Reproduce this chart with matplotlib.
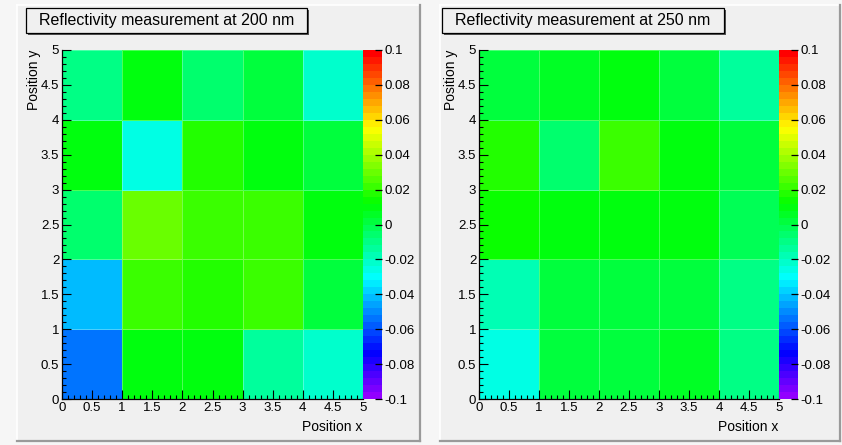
import colorsys

import matplotlib.pyplot as plt
import numpy as np
from matplotlib.colors import BoundaryNorm, ListedColormap
from matplotlib.lines import Line2D
from matplotlib.patches import Rectangle
from matplotlib.ticker import FormatStrFormatter, MultipleLocator

plt.rcParams['font.family'] = ['Liberation Sans', 'DejaVu Sans']
plt.rcParams['axes.unicode_minus'] = False

W, H = 842, 445
PAD_COLOR = '#f0f0f0'

# 5x5 scan grid, rows listed from y = 0 upwards
x_edges = np.arange(6)
y_edges = np.arange(6)

refl_200 = [
    [-0.054, 0.011, 0.011, -0.014, -0.021],
    [-0.043, 0.021, 0.018, 0.021, 0.003],
    [-0.006, 0.030, 0.022, 0.021, 0.011],
    [0.011, -0.027, 0.019, 0.011, 0.003],
    [-0.009, 0.010, -0.007, 0.002, -0.021],
]
refl_250 = [
    [-0.026, 0.003, 0.002, 0.006, -0.010],
    [-0.018, 0.002, 0.003, 0.001, -0.009],
    [0.014, 0.011, 0.011, 0.010, -0.002],
    [0.018, -0.006, 0.022, 0.011, 0.002],
    [0.002, 0.005, 0.010, 0.002, -0.014],
]
titles = ['Reflectivity measurement at 200 nm', 'Reflectivity measurement at 250 nm']

z_min, z_max, n_colors = -0.1, 0.1, 50
cbar_ticks = np.linspace(z_min, z_max, 11)


def pretty_palette(n):
    # violet -> red spectrum, fixed lightness/saturation, hue scanned 280..0
    cols = []
    for i in range(n):
        hue = 280.0 - (i + 1) * 280.0 / n
        cols.append(colorsys.hls_to_rgb(hue / 360.0, 0.5, 1.0))
    return ListedColormap(cols)


def fx(x):
    return x / W


def fy(y):
    return 1 - y / H


def px_rect(x0, y0, x1, y1):
    return [fx(x0), fy(y1), (x1 - x0) / W, (y1 - y0) / H]


def draw_pad(fig, x0, y0, x1, y1):
    fig.add_artist(Rectangle((fx(x0), fy(y1)), (x1 - x0) / W, (y1 - y0) / H,
                             transform=fig.transFigure, facecolor=PAD_COLOR,
                             edgecolor='none', zorder=0))
    light = dict(color='white', lw=1.2, transform=fig.transFigure, zorder=0.5)
    dark = dict(color='#9a9a9a', lw=1.6, transform=fig.transFigure, zorder=0.5)
    fig.add_artist(Line2D([fx(x0), fx(x1)], [fy(y0), fy(y0)], **light))
    fig.add_artist(Line2D([fx(x0), fx(x0)], [fy(y0), fy(y1)], **light))
    fig.add_artist(Line2D([fx(x0), fx(x1)], [fy(y1), fy(y1)], **dark))
    fig.add_artist(Line2D([fx(x1), fx(x1)], [fy(y0), fy(y1)], **dark))


def draw_title(fig, text, x0, y0, x1, y1):
    fig.add_artist(Rectangle((fx(x0 + 2), fy(y1 + 2)), (x1 - x0) / W, (y1 - y0) / H,
                             transform=fig.transFigure, facecolor='#555555',
                             edgecolor='none', zorder=1))
    fig.add_artist(Rectangle((fx(x0), fy(y1)), (x1 - x0) / W, (y1 - y0) / H,
                             transform=fig.transFigure, facecolor=PAD_COLOR,
                             edgecolor='black', lw=0.9, zorder=1.1))
    fig.text(fx((x0 + x1) / 2), fy((y0 + y1) / 2), text, ha='center', va='center',
             fontsize=11.5, zorder=2)


cmap = pretty_palette(n_colors)
norm = BoundaryNorm(np.linspace(z_min, z_max, n_colors + 1), n_colors)

# pixel layout of each pad: pad frame, title box, plot frame, palette strip
layouts = [
    dict(pad=(17, 5, 420, 441), title=(26, 8, 307, 33), plot=(62, 50, 363, 399), bar=(363, 382)),
    dict(pad=(440, 5, 840, 441), title=(442, 8, 724, 33), plot=(479, 50, 779, 399), bar=(779, 798)),
]

fig = plt.figure(figsize=(W / 100, H / 100), dpi=100)
fig.patch.set_facecolor('#f6f6f6')

for values, title, lay in zip([refl_200, refl_250], titles, layouts):
    draw_pad(fig, *lay['pad'])
    draw_title(fig, title, *lay['title'])

    x0, y0, x1, y1 = lay['plot']
    ax = fig.add_axes(px_rect(x0, y0, x1, y1))
    mesh = ax.pcolormesh(x_edges, y_edges, np.array(values), cmap=cmap, norm=norm,
                         edgecolors=(1, 1, 1, 0.3), linewidth=0.6)
    ax.set_xlim(x_edges[0], x_edges[-1])
    ax.set_ylim(y_edges[0], y_edges[-1])
    for axis in (ax.xaxis, ax.yaxis):
        axis.set_major_locator(MultipleLocator(0.5))
        axis.set_minor_locator(MultipleLocator(0.1))
        axis.set_major_formatter(FormatStrFormatter('%g'))
    ax.tick_params(which='both', direction='in', top=False, right=False,
                   labelsize=9.5, width=0.8, color='black')
    ax.tick_params(which='major', length=6.5, pad=2)
    ax.tick_params(which='minor', length=3)
    ax.spines['top'].set_visible(False)
    ax.spines['right'].set_visible(False)
    for side in ('left', 'bottom'):
        ax.spines[side].set_linewidth(0.9)

    fig.text(fx(x0 - 28), fy(y0), 'Position y', rotation=90, ha='center', va='top',
             fontsize=10)
    fig.text(fx(x1 - 1), fy(427), 'Position x', ha='right', va='center', fontsize=10)

    b0, b1 = lay['bar']
    cax = fig.add_axes(px_rect(b0, y0, b1, y1))
    cbar = fig.colorbar(mesh, cax=cax, ticks=cbar_ticks)
    cbar.outline.set_visible(False)
    cbar.ax.yaxis.set_major_formatter(FormatStrFormatter('%g'))
    cbar.ax.tick_params(direction='in', length=5, width=0.9, labelsize=9.5, pad=2)
    cbar.ax.minorticks_off()

fig.savefig('out.png', dpi=100)
plt.close(fig)
